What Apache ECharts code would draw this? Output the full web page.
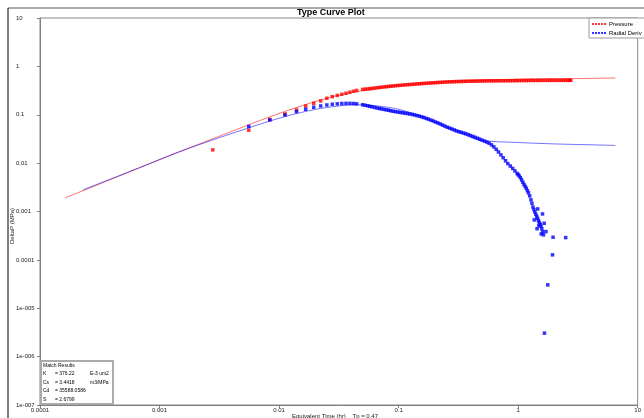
<!DOCTYPE html>
<html>
<head>
<meta charset="utf-8">
<script src="https://cdn.jsdelivr.net/npm/echarts@6/dist/echarts.min.js"></script>
<style>
  html, body { margin: 0; padding: 0; background: #fff; }
  #chart { width: 644px; height: 418px; }
</style>
</head>
<body>
<div id="chart"></div>
<script>
// tick labels as printed by the source program
var xTickLabels = ['0.0001', '0.001', '0.01', '0.1', '1', '10'];
var yTickLabels = ['1e-007', '1e-006', '1e-005', '0.0001', '0.001', '0.01', '0.1', '1', '10'];

// measured pressure change [time, deltaP]
var pressurePoints = [
    [0.00279, 0.0188], [0.00558, 0.0479], [0.00837, 0.080], [0.0112, 0.104], [0.0140, 0.126],
    [0.0167, 0.152], [0.0195, 0.173], [0.0223, 0.193], [0.0251, 0.219], [0.0279, 0.237],
    [0.0307, 0.251], [0.0335, 0.265], [0.0363, 0.278], [0.0391, 0.292], [0.0419, 0.306],
    [0.0446, 0.318], [0.05, 0.334], [0.0525, 0.338], [0.055, 0.341], [0.0575, 0.346],
    [0.06, 0.351], [0.063, 0.356], [0.066, 0.361], [0.069, 0.366], [0.072, 0.371],
    [0.0755, 0.376], [0.079, 0.381], [0.0825, 0.385], [0.086, 0.389], [0.09, 0.394],
    [0.094, 0.398], [0.0985, 0.402], [0.103, 0.406], [0.108, 0.410], [0.113, 0.414],
    [0.1185, 0.418], [0.124, 0.421], [0.13, 0.425], [0.136, 0.429], [0.1425, 0.433],
    [0.149, 0.437], [0.156, 0.441], [0.163, 0.444], [0.1705, 0.447], [0.178, 0.450],
    [0.1865, 0.454], [0.195, 0.457], [0.204, 0.461], [0.213, 0.464], [0.223, 0.467],
    [0.233, 0.470], [0.244, 0.473], [0.255, 0.476], [0.267, 0.479], [0.279, 0.481],
    [0.292, 0.483], [0.305, 0.485], [0.3195, 0.487], [0.334, 0.488], [0.3495, 0.490],
    [0.365, 0.491], [0.3825, 0.493], [0.4, 0.494], [0.4185, 0.495], [0.437, 0.496],
    [0.4575, 0.497], [0.478, 0.498], [0.5005, 0.500], [0.523, 0.501], [0.5475, 0.502],
    [0.572, 0.502], [0.599, 0.503], [0.626, 0.503], [0.6555, 0.504], [0.685, 0.504],
    [0.7175, 0.505], [0.75, 0.505], [0.785, 0.506], [0.82, 0.506], [0.86, 0.507],
    [0.9, 0.507], [0.94, 0.508], [0.98, 0.509], [1.02, 0.510], [1.07, 0.510],
    [1.12, 0.511], [1.17, 0.511], [1.225, 0.512], [1.28, 0.512], [1.34, 0.512],
    [1.4, 0.512], [1.465, 0.513], [1.53, 0.513], [1.6, 0.513], [1.68, 0.513],
    [1.76, 0.514], [1.84, 0.514], [1.92, 0.514], [2.01, 0.514], [2.1, 0.514],
    [2.2, 0.514], [2.3, 0.514], [2.4, 0.514], [2.51, 0.515], [2.62, 0.515],
    [2.7, 0.515], [2.76, 0.515]
];

// measured radial derivative [time, deriv]
var derivPoints = [
    [0.00558, 0.0573], [0.00837, 0.0782], [0.0112, 0.099], [0.0140, 0.116], [0.0167, 0.130],
    [0.0195, 0.143], [0.0223, 0.152], [0.0251, 0.159], [0.0279, 0.165], [0.0307, 0.168],
    [0.0335, 0.171], [0.0363, 0.172], [0.0391, 0.172], [0.0419, 0.171], [0.0446, 0.168],
    [0.05, 0.161], [0.0525, 0.157], [0.055, 0.153], [0.0575, 0.149], [0.06, 0.146],
    [0.063, 0.142], [0.066, 0.138], [0.069, 0.135], [0.072, 0.132], [0.0755, 0.129],
    [0.079, 0.1265], [0.0825, 0.124], [0.086, 0.121], [0.09, 0.118], [0.094, 0.116],
    [0.0985, 0.114], [0.103, 0.1117], [0.108, 0.110], [0.113, 0.108], [0.1185, 0.106],
    [0.124, 0.104], [0.13, 0.1015], [0.136, 0.099], [0.1425, 0.096], [0.149, 0.0936],
    [0.156, 0.0905], [0.163, 0.0875], [0.1705, 0.084], [0.178, 0.081], [0.1865, 0.0775],
    [0.195, 0.0741], [0.204, 0.0708], [0.213, 0.0677], [0.223, 0.0645], [0.233, 0.0613],
    [0.244, 0.0582], [0.255, 0.0552], [0.267, 0.053], [0.279, 0.0507], [0.292, 0.0485],
    [0.305, 0.0463], [0.3195, 0.0447], [0.334, 0.0433], [0.3495, 0.0419], [0.365, 0.0405],
    [0.3825, 0.0388], [0.4, 0.0372], [0.4185, 0.0356], [0.437, 0.0341], [0.4575, 0.0326],
    [0.478, 0.0312], [0.5005, 0.0298], [0.523, 0.0285], [0.5475, 0.0272], [0.572, 0.0258],
    [0.599, 0.0238], [0.626, 0.0217], [0.6555, 0.0193], [0.685, 0.0170], [0.7175, 0.0148],
    [0.75, 0.0129], [0.785, 0.0112], [0.82, 0.00977], [0.86, 0.0087], [0.9, 0.00776],
    [0.94, 0.0069], [0.98, 0.00613], [1.0, 0.0058], [1.02, 0.00545], [1.045, 0.0050],
    [1.07, 0.00450], [1.095, 0.0040], [1.12, 0.00361], [1.145, 0.0033], [1.17, 0.00301],
    [1.195, 0.0027], [1.22, 0.00242], [1.25, 0.0021], [1.28, 0.00174], [1.305, 0.00148],
    [1.33, 0.00124], [1.355, 0.0011], [1.38, 0.00098], [1.405, 0.00088], [1.43, 0.00079],
    [1.455, 0.00072], [1.48, 0.000646], [1.505, 0.00059], [1.53, 0.00054], [1.555, 0.00049],
    [1.58, 0.000437], [1.605, 0.00038], [1.63, 0.000329],
    [1.457, 0.00113], [1.60, 0.00089], [1.71, 0.000385], [1.49, 0.00051], [1.44, 0.00044],
    [1.56, 0.000344], [1.365, 0.00067], [1.65, 0.00057],
    [1.96, 0.000294], [2.50, 0.000289], [1.94, 0.000127], [1.77, 0.0000304], [1.66, 0.00000306]
];

// type curve (model) lines
var pressureModel = [
    [0.000162, 0.00191], [0.000315, 0.0037], [0.000676, 0.008], [0.00145, 0.017],
    [0.00378, 0.0427], [0.0071, 0.078], [0.0136, 0.138], [0.0255, 0.222], [0.048, 0.31],
    [0.092, 0.394], [0.173, 0.454], [0.306, 0.499], [0.656, 0.524], [1.41, 0.55],
    [3.03, 0.56], [6.5, 0.575]
];
var derivModel = [
    [0.000228, 0.00279], [0.000676, 0.008], [0.00145, 0.017], [0.00312, 0.0332],
    [0.00553, 0.0533], [0.00842, 0.0745], [0.0136, 0.104], [0.0223, 0.135], [0.0353, 0.156],
    [0.0479, 0.16], [0.0663, 0.152], [0.0973, 0.132], [0.1426, 0.099], [0.209, 0.0677],
    [0.306, 0.0463], [0.474, 0.0301], [0.962, 0.0268], [2.07, 0.0249], [4.44, 0.0238],
    [6.5, 0.0232]
];

// match results box
var matchResults = [
    ['K', '= 376.22', 'E-3 um2'],
    ['Cs', '= 3.4418', 'm3/MPa'],
    ['Cd', '= 35588.0586', ''],
    ['S', '= 2.6799', '']
];

var chart = echarts.init(document.getElementById('chart'));
var font = 'Liberation Sans, Arial, sans-serif';
var dashIcon = 'path://M0,0h2v2h-2z M3,0h2v2h-2z M6,0h2v2h-2z M9,0h2v2h-2z M12,0h2v2h-2z';

function boxText(x, y, str) {
    return {
        type: 'text', x: x, y: y, z: 20,
        style: { text: str, font: '5px ' + font, fill: '#000', textVerticalAlign: 'middle' }
    };
}

var graphics = [
    { type: 'line', shape: { x1: 8, y1: 8, x2: 644, y2: 8 }, style: { stroke: '#555', lineWidth: 1 } },
    { type: 'line', shape: { x1: 8, y1: 8, x2: 8, y2: 418 }, style: { stroke: '#000', lineWidth: 1 } },
    {
        type: 'text', x: 12, y: 226, rotation: Math.PI / 2,
        style: { text: 'DeltaP (MPa)', font: '6px ' + font, fill: '#222', textAlign: 'center', textVerticalAlign: 'middle' }
    },
    {
        type: 'text', x: 292, y: 413,
        style: { text: 'Equivalent Time (hr)    Tp = 0.47', font: '6px ' + font, fill: '#222' }
    },
    {
        type: 'rect', z: 10, shape: { x: 41, y: 361, width: 72, height: 43 },
        style: { fill: '#fff', stroke: '#aaa', lineWidth: 2 }
    },
    boxText(43, 365.5, 'Match Results')
];
matchResults.forEach(function (r, i) {
    var y = 374 + i * 8.5;
    graphics.push(boxText(43, y, r[0]));
    graphics.push(boxText(55, y, r[1]));
    if (r[2]) graphics.push(boxText(90, y, r[2]));
});

var option = {
    animation: false,
    backgroundColor: '#fff',
    textStyle: { fontFamily: font },
    title: {
        text: 'Type Curve Plot',
        left: 297, top: 8, padding: 0,
        textStyle: { fontSize: 9, fontWeight: 'bold', color: '#000', fontFamily: font }
    },
    legend: {
        orient: 'vertical',
        left: 589, top: 18,
        padding: [3, 6, 2, 3],
        itemGap: 3,
        itemWidth: 14, itemHeight: 2,
        borderColor: '#999', borderWidth: 1,
        backgroundColor: '#fff',
        textStyle: { fontSize: 6, color: '#000', padding: [0, 0, 0, -2] },
        data: [
            { name: 'Pressure', icon: dashIcon },
            { name: 'Radial Deriv', icon: dashIcon }
        ]
    },
    grid: { left: 40, right: 2, top: 18, bottom: 13, show: true, borderColor: '#888', borderWidth: 1 },
    xAxis: {
        type: 'log', logBase: 10, min: 0.0001, max: 10, splitNumber: 5,
        axisLine: { lineStyle: { color: '#808080' } },
        axisTick: { length: 3, lineStyle: { color: '#808080' } },
        splitLine: { show: false },
        axisLabel: {
            fontSize: 6, color: '#222', margin: 2, showMaxLabel: true, showMinLabel: true,
            formatter: function (v) { return xTickLabels[Math.round(Math.log10(v)) + 4]; }
        }
    },
    yAxis: {
        type: 'log', logBase: 10, min: 0.0000001, max: 10, splitNumber: 8,
        axisLine: { lineStyle: { color: '#808080' } },
        axisTick: { length: 3, lineStyle: { color: '#808080' } },
        splitLine: { show: false },
        axisLabel: {
            fontSize: 6, color: '#222', align: 'left', margin: 24, showMaxLabel: true, showMinLabel: true,
            formatter: function (v) { return yTickLabels[Math.round(Math.log10(v)) + 7]; }
        }
    },
    series: [
        {
            name: 'Pressure model', type: 'line', data: pressureModel, showSymbol: false,
            smooth: 0.3, lineStyle: { color: 'rgba(255,0,0,0.55)', width: 1 }, z: 2, silent: true
        },
        {
            name: 'Deriv model', type: 'line', data: derivModel, showSymbol: false,
            smooth: 0.3, lineStyle: { color: 'rgba(0,0,255,0.55)', width: 1 }, z: 2, silent: true
        },
        {
            name: 'Pressure', type: 'scatter', data: pressurePoints, symbol: 'rect', symbolSize: 3.5,
            itemStyle: { color: '#ff0000' }, z: 3
        },
        {
            name: 'Radial Deriv', type: 'scatter', data: derivPoints, symbol: 'rect', symbolSize: 3.5,
            itemStyle: { color: '#0000ff' }, z: 4
        }
    ],
    graphic: graphics
};
chart.setOption(option);
</script>
</body>
</html>
